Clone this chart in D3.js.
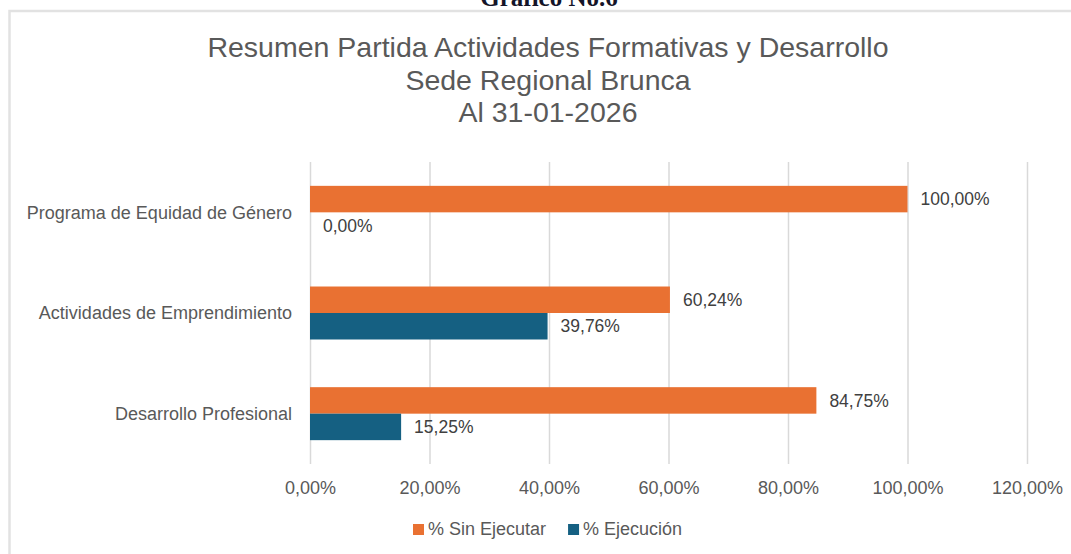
<!DOCTYPE html>
<html>
<head>
<meta charset="utf-8">
<script src="https://cdn.jsdelivr.net/npm/d3@7"></script>
<style>
  body { margin: 0; background: #fff; }
  svg { display: block; font-family: "Liberation Sans", Arial, sans-serif; }
</style>
</head>
<body>
<svg id="drawing_region"></svg>
<script>
// data
const categories = ["Programa de Equidad de Género", "Actividades de Emprendimiento", "Desarrollo Profesional"];
const seriesNames = ["% Sin Ejecutar", "% Ejecución"];
const sinEjecutar = [1.0, 0.6024, 0.8475];
const ejecucion = [0.0, 0.3976, 0.1525];
const xTicks = [0, 0.2, 0.4, 0.6, 0.8, 1.0, 1.2];
const titleLines = ["Resumen Partida Actividades Formativas y Desarrollo", "Sede Regional Brunca", "Al 31-01-2026"];
const docHeading = "Gráfico No.6";
const colors = ["#E97132", "#156082"];

const width = 1071, height = 554;
const margin = {top: 162, right: 44, bottom: 90, left: 310};

const svg = d3.select('#drawing_region')
    .attr('width', width)
    .attr('height', height);

// comma decimal like the original
const locale = d3.formatLocale({decimal: ",", thousands: ".", grouping: [3], currency: ["", ""]});
const pct = locale.format(".2%");

// page heading cut by the top edge (as in the source) + chart frame
svg.append('text')
    .attr('x', 549)
    .attr('y', 6)
    .attr('text-anchor', 'middle')
    .style('font-family', '"Liberation Serif", "Times New Roman", serif')
    .style('font-weight', 'bold')
    .style('font-size', '25px')
    .style('fill', '#141428')
    .text(docHeading);

svg.append('path')
    .attr('d', `M9.5,${height} V11 H${width}`)
    .attr('fill', 'none')
    .attr('stroke', '#e2e2e2')
    .attr('stroke-width', 2.5);

// title
svg.append('g').selectAll('text')
    .data(titleLines)
    .join('text')
    .attr('x', 548)
    .attr('y', (d, i) => 57 + i * 32.5)
    .attr('text-anchor', 'middle')
    .style('font-size', '28.5px')
    .style('fill', '#595959')
    .text(d => d);

const xscale = d3.scaleLinear()
    .domain([0, 1.2])
    .range([margin.left, width - margin.right]);

const yscale = d3.scaleBand()
    .domain(categories)
    .range([margin.top, height - margin.bottom]);

const yinner = d3.scaleBand()
    .domain(seriesNames)
    .range([0, yscale.bandwidth()])
    .paddingOuter(0.9);

// gridlines
const xaxis = d3.axisBottom(xscale)
    .tickValues(xTicks)
    .tickSize(-(height - margin.bottom - margin.top))
    .tickFormat(pct);

const xaxis_group = svg.append('g')
    .attr('transform', `translate(0, ${height - margin.bottom})`)
    .call(xaxis);
xaxis_group.select('.domain').remove();
xaxis_group.selectAll('.tick line')
    .attr('stroke', '#d9d9d9')
    .attr('stroke-width', 1.5);
xaxis_group.selectAll('.tick text')
    .attr('y', 30)
    .attr('dy', 0)
    .style('font-size', '18px')
    .style('font-family', '"Liberation Sans", Arial, sans-serif')
    .style('fill', '#595959');

// category labels
svg.append('g').selectAll('text')
    .data(categories)
    .join('text')
    .attr('x', margin.left - 18)
    .attr('y', d => yscale(d) + yscale.bandwidth() / 2)
    .attr('dy', '0.35em')
    .attr('text-anchor', 'end')
    .style('font-size', '18px')
    .style('fill', '#595959')
    .text(d => d);

// bars
const rows = [];
categories.forEach((c, i) => {
    rows.push({cat: c, key: seriesNames[0], value: sinEjecutar[i], color: colors[0]});
    rows.push({cat: c, key: seriesNames[1], value: ejecucion[i], color: colors[1]});
});

const chart = svg.append('g');
chart.selectAll('rect')
    .data(rows)
    .join('rect')
    .attr('x', xscale(0))
    .attr('y', d => yscale(d.cat) + yinner(d.key))
    .attr('width', d => xscale(d.value) - xscale(0))
    .attr('height', yinner.bandwidth())
    .attr('fill', d => d.color);

chart.selectAll('text')
    .data(rows)
    .join('text')
    .attr('x', d => xscale(d.value) + 13)
    .attr('y', d => yscale(d.cat) + yinner(d.key) + yinner.bandwidth() / 2)
    .attr('dy', '0.35em')
    .style('font-size', '17.5px')
    .style('fill', '#404040')
    .text(d => pct(d.value));

// legend
const legend = svg.append('g')
    .attr('transform', `translate(413, 529)`);
let lx = 0;
seriesNames.forEach((name, i) => {
    const item = legend.append('g').attr('transform', `translate(${lx}, 0)`);
    item.append('rect')
        .attr('x', 0)
        .attr('y', -5)
        .attr('width', 11)
        .attr('height', 11)
        .attr('fill', colors[i]);
    const t = item.append('text')
        .attr('x', 15)
        .attr('dy', '0.35em')
        .style('font-size', '18px')
        .style('fill', '#595959')
        .text(name);
    lx += 15 + t.node().getComputedTextLength() + 22;
});
</script>
</body>
</html>
